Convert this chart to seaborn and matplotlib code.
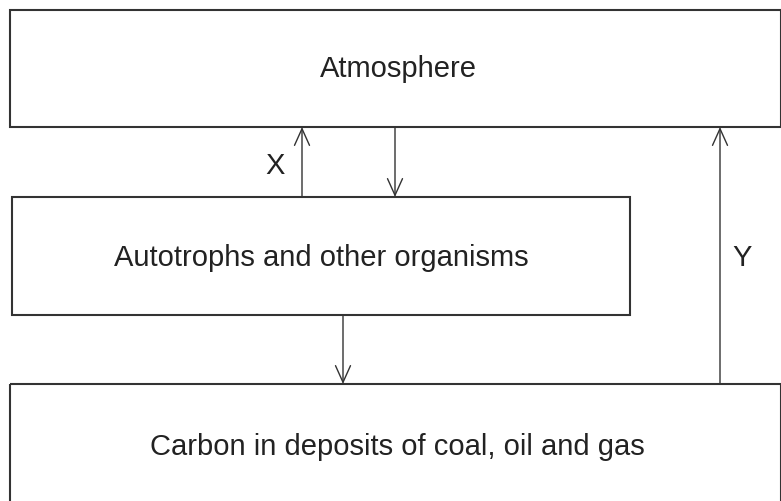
import matplotlib
matplotlib.use("Agg")
import matplotlib.pyplot as plt
import seaborn as sns
from matplotlib.patches import Rectangle

# diagram content
box_labels = ["Atmosphere", "Autotrophs and other organisms",
              "Carbon in deposits of coal, oil and gas"]
flow_labels = ["X", "", "", "Y"]

sns.set_theme(style="white")
plt.rcParams["font.family"] = ["Liberation Sans", "DejaVu Sans"]

W, H = 781, 501
fig = plt.figure(figsize=(W / 100, H / 100), dpi=100)
ax = fig.add_axes([0, 0, 1, 1])
ax.set_xlim(0, W)
ax.set_ylim(H, 0)
ax.axis("off")

line_col = "#333333"

# boxes: (x0, y0, x1, y1) in pixel space
boxes = [(10, 10, 781, 127), (12, 197, 630, 315), (10, 384, 781, 520)]
text_pos = [(398, 69), (321, 258), (397, 447)]
for (x0, y0, x1, y1), label, (tx, ty) in zip(boxes, box_labels, text_pos):
    ax.add_patch(Rectangle((x0, y0), x1 - x0, y1 - y0, fill=False,
                           edgecolor=line_col, lw=1.5))
    ax.text(tx, ty, label, ha="center", va="center", fontsize=21,
            color="#222222")

# arrows: (x, y_start, y_end)
arrows = [(302, 197, 127), (395, 127, 197), (343, 315, 384), (720, 384, 127)]
label_pos = [(275, 166), None, None, (742, 258)]
for (x, y0, y1), lab, lp in zip(arrows, flow_labels, label_pos):
    ax.annotate("", xy=(x, y1), xytext=(x, y0),
                arrowprops=dict(arrowstyle="->,head_length=1.0,head_width=0.45",
                                color=line_col, lw=1.0, shrinkA=0, shrinkB=0))
    if lab:
        ax.text(lp[0], lp[1], lab, ha="center", va="center", fontsize=21,
                color="#222222")

fig.savefig("out.png", dpi=100, facecolor="white")
